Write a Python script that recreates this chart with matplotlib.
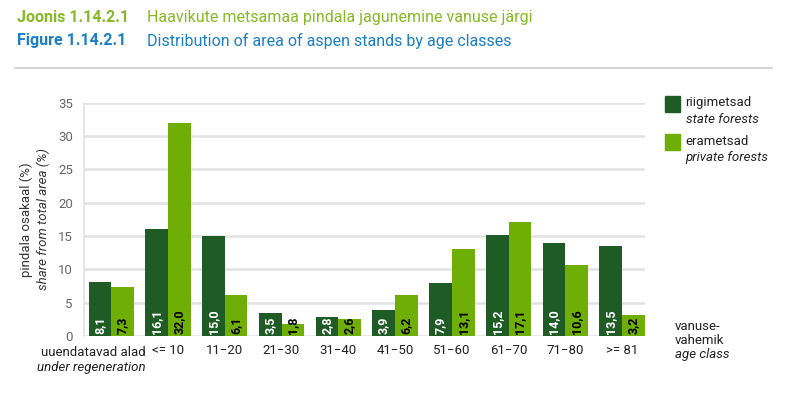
import matplotlib
matplotlib.use('Agg')
import matplotlib.pyplot as plt
from matplotlib.patches import Rectangle
import numpy as np

plt.rcParams['font.family'] = ['Roboto', 'DejaVu Sans']

# data
categories = ['uuendatavad alad', '<= 10', '11\u221220', '21\u221230', '31\u221240',
              '41\u221250', '51\u221260', '61\u221270', '71\u221280', '>= 81']
state = [8.1, 16.1, 15.0, 3.5, 2.8, 3.9, 7.9, 15.2, 14.0, 13.5]
private = [7.3, 32.0, 6.1, 1.8, 2.6, 6.2, 13.1, 17.1, 10.6, 3.2]
yticks = [0, 5, 10, 15, 20, 25, 30, 35]

dark = '#1f5c25'
light = '#6fae05'
grid_c = '#e2e2e2'
tick_c = '#666666'
txt_c = '#222222'

fig = plt.figure(figsize=(8, 3.94), dpi=100)
ax = fig.add_axes([0.105, 0.147, 0.701, 0.592])

x = np.arange(len(categories))
w = 0.4
ax.bar(x - w / 2, state, w, color=dark, zorder=3)
ax.bar(x + w / 2, private, w, color=light, zorder=3)

for xi, v in zip(x, state):
    ax.text(xi - w / 2, 0.3, f'{v:.1f}'.replace('.', ','), rotation=90, ha='center',
            va='bottom', color='white', fontsize=9, fontweight='bold', zorder=4)
for xi, v in zip(x, private):
    ax.text(xi + w / 2, 0.3, f'{v:.1f}'.replace('.', ','), rotation=90, ha='center',
            va='bottom', color='black', fontsize=9, fontweight='bold', zorder=4)

ax.set_xlim(-0.48, 9.4)
ax.set_ylim(0, 35)
ax.set_yticks(yticks)
ax.yaxis.grid(True, color=grid_c, linewidth=1.8, zorder=0)
ax.tick_params(axis='y', length=0, labelsize=9.5, labelcolor=tick_c, pad=8)
ax.tick_params(axis='x', length=0, labelsize=9.5, labelcolor=txt_c, pad=6)
for s in ['top', 'right', 'bottom']:
    ax.spines[s].set_visible(False)
ax.spines['left'].set_color(grid_c)
ax.spines['left'].set_linewidth(1.2)

ax.set_xticks(x)
ax.set_xticklabels([''] + categories[1:])
ax.text(0.6, -2.5, categories[0], ha='right', va='center', fontsize=9.5, color=txt_c)
ax.text(0.6, -4.7, 'under regeneration', ha='right', va='center', fontsize=9.5,
        style='italic', color=txt_c)

ax.text(-1.5, 17.5, 'pindala osakaal (%)', rotation=90, ha='center', va='center',
        fontsize=9.5, color='#333333')
ax.text(-1.2, 17.5, 'share from total area (%)', rotation=90, ha='center', va='center',
        fontsize=9.5, style='italic', color='#333333')

ax.text(9.93, 1.5, 'vanuse-', fontsize=9.5, color=txt_c, va='center')
ax.text(9.93, -0.7, 'vahemik', fontsize=9.5, color=txt_c, va='center')
ax.text(9.93, -2.8, 'age class', fontsize=9.5, color=txt_c, va='center', style='italic')

# legend
for yy, c, t1, t2 in [(0.716, dark, 'riigimetsad', 'state forests'),
                      (0.619, light, 'erametsad', 'private forests')]:
    fig.patches.append(Rectangle((0.831, yy), 0.019, 0.040, transform=fig.transFigure,
                                 color=c))
    fig.text(0.857, yy + 0.023, t1, fontsize=9.5, color=txt_c, va='center')
    fig.text(0.857, yy - 0.020, t2, fontsize=9.5, color=txt_c, va='center', style='italic')

# title
fig.text(0.021, 0.955, 'Joonis 1.14.2.1', fontsize=11.5, fontweight='bold', color='#86b925',
         va='center')
fig.text(0.184, 0.955, 'Haavikute metsamaa pindala jagunemine vanuse järgi', fontsize=11.5,
         color='#86b925', va='center')
fig.text(0.021, 0.897, 'Figure 1.14.2.1', fontsize=11.5, fontweight='bold', color='#1a7fc4',
         va='center')
fig.text(0.184, 0.897, 'Distribution of area of aspen stands by age classes', fontsize=11.5,
         color='#1a7fc4', va='center')
fig.add_artist(plt.Line2D([0.019, 0.965], [0.827, 0.827], color='#cccccc', linewidth=1.2))

fig.savefig('out.png', dpi=100)
